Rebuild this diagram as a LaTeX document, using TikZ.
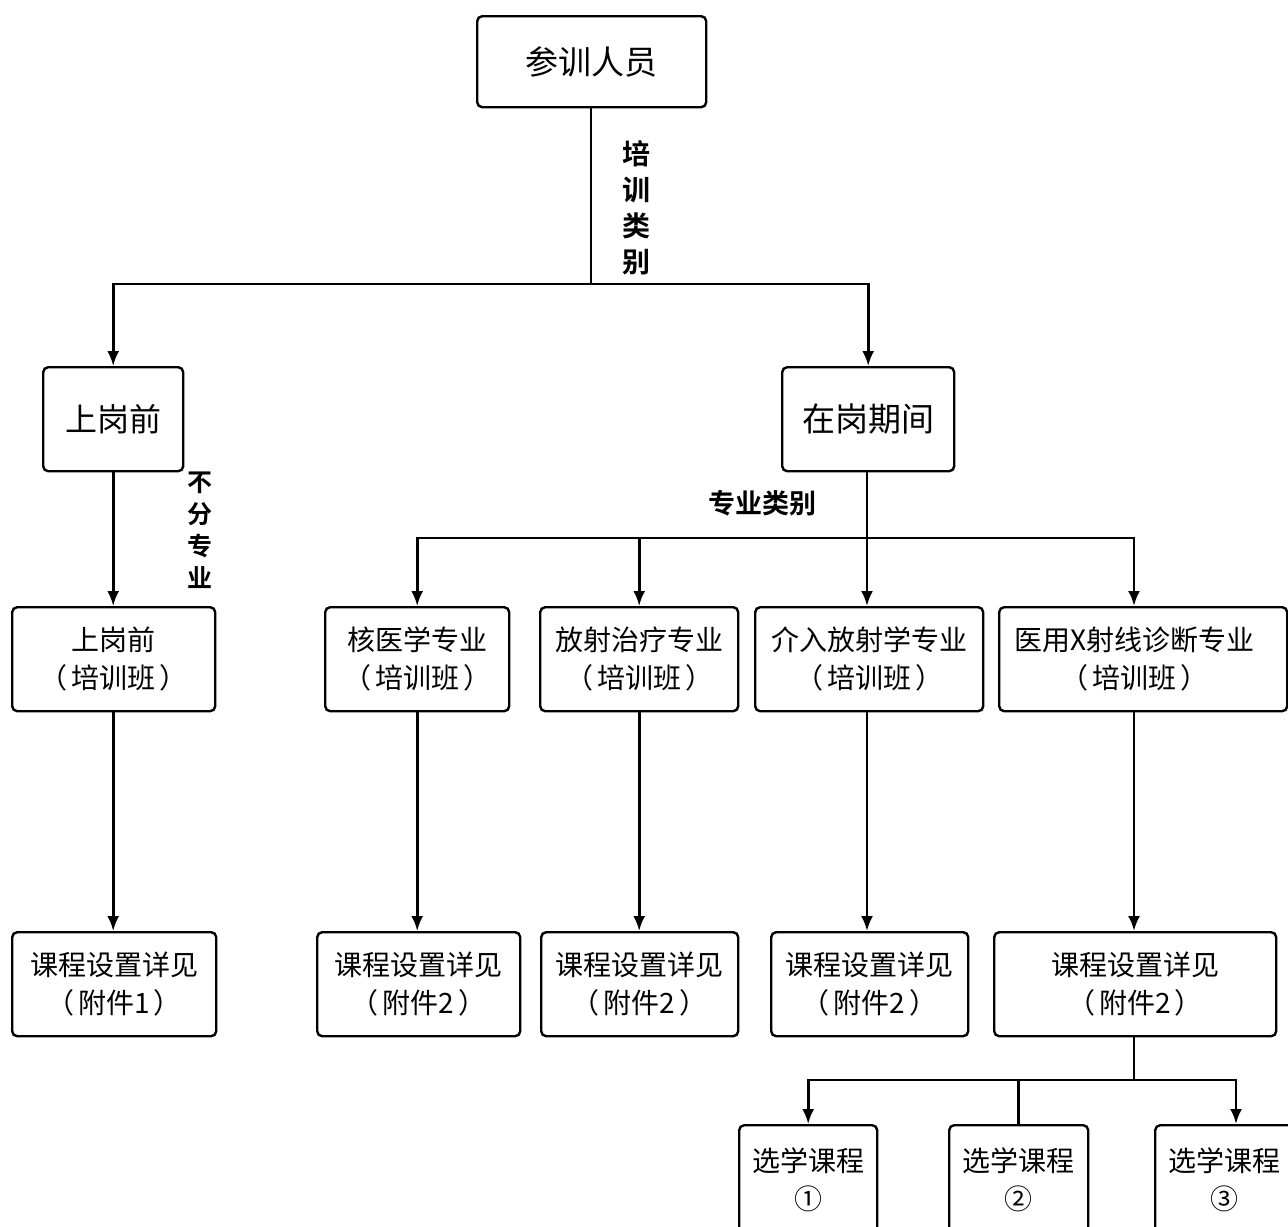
\documentclass[tikz,border=0pt]{standalone}
\usepackage{fontspec}
\setmainfont{Noto Sans CJK SC}
\newfontfamily\cjkb{Noto Sans CJK SC Bold}
\usetikzlibrary{arrows.meta}
\tikzset{
  box/.style={draw, line width=1.2pt, rounded corners=2.5pt, fill=white, anchor=north west, inner sep=0pt, align=center},
  conn/.style={line width=1.3pt},
  arr/.style={conn, -{Latex[length=7.5pt,width=6pt]}},
  lab/.style={font=\cjkb, align=center, inner sep=0pt},
}
\newcommand{\bx}[6]{\node[box, minimum width=#4*0.5pt, minimum height=#5*0.5pt, font=\fontsize{#6}{19}\selectfont] (#1) at #2 {#3};}
\newcommand{\pp}[1]{（\hspace{2pt}#1\hspace{2pt}）}
\begin{document}
\begin{tikzpicture}[x=0.5pt,y=-0.5pt]
\path[use as bounding box, clip] (0,0) rectangle (1288,1226);
\fill[white] (0,0) rectangle (1288,1226);
% top
\bx{top}{(476,15)}{参训人员}{229}{91}{16.5}
\bx{pre}{(42,366)}{上岗前}{140}{104}{16}
\bx{on}{(781,366)}{在岗期间}{172}{104}{16.5}
% row 2
\bx{c0}{(11,606)}{上岗前\\\pp{培训班}}{203}{104}{14}
\bx{c1}{(324,606)}{核医学专业\\\pp{培训班}}{184}{104}{14}
\bx{c2}{(539,606)}{放射治疗专业\\\pp{培训班}}{198}{104}{14}
\bx{c3}{(754,606)}{介入放射学专业\\\pp{培训班}}{228}{104}{14}
\node[box, minimum width=144pt, minimum height=52pt, font=\fontsize{14}{19}\selectfont, text width=144pt] (c4) at (998,606) {\hspace*{-9pt}医用X射线诊断专业\\\hspace*{-9pt}\pp{培训班}};
% row 3
\bx{d0}{(11,931)}{课程设置详见\\\pp{附件1}}{204}{104}{14}
\bx{d1}{(316,931)}{课程设置详见\\\pp{附件2}}{203}{104}{14}
\bx{d2}{(540,931)}{课程设置详见\\\pp{附件2}}{197}{104}{14}
\bx{d3}{(770,931)}{课程设置详见\\\pp{附件2}}{197}{104}{14}
\bx{d4}{(993,931)}{课程设置详见\\\pp{附件2}}{282}{104}{14}
% row 4
\bx{e1}{(738,1124)}{选学课程\\①}{138}{110}{14}
\bx{e2}{(948,1124)}{选学课程\\②}{139}{110}{14}
\bx{e3}{(1154,1124)}{选学课程\\③}{138}{110}{14}
% junctions
\coordinate (j1) at (591,284);
\coordinate (j2) at (867,538);
\coordinate (j3) at (1134,1080);
\coordinate (k3) at (1236,1080);
% connectors
\draw[conn] (top.south -| j1) -- (j1);
\draw[arr] (j1) -| (pre.north);
\draw[arr] (j1) -| (on.north);
\draw[arr] (pre.south) -- (c0.north -| pre.south);
\draw[conn] (on.south -| j2) -- (j2);
\draw[arr] (j2) -| (c1.north);
\draw[arr] (j2) -| (c2.north);
\draw[arr] (j2) -- (c3.north -| j2);
\draw[arr] (j2) -| (c4.north -| j3);
\draw[arr] (c0.south -| pre.south) -- (d0.north -| pre.south);
\draw[arr] (c1.south) -- (d1.north -| c1.south);
\draw[arr] (c2.south) -- (d2.north -| c2.south);
\draw[arr] (c3.south -| j2) -- (d3.north -| j2);
\draw[arr] (c4.south -| j3) -- (d4.north -| j3);
\draw[conn] (d4.south -| j3) -- (j3);
\draw[arr] (j3) -| (e1.north);
\draw[conn] (j3) -| (e2.north);
\draw[arr] (j3) -- (k3) -- (e3.north -| k3);
% labels
\node[lab, font=\cjkb\fontsize{14}{18}\selectfont] (l1) at (636,208) {培\\训\\类\\别};
\node[lab, font=\cjkb\fontsize{12.5}{16}\selectfont] (l2) at (200,530) {不\\分\\专\\业};
\node[lab, font=\cjkb\fontsize{13.5}{16}\selectfont] (l3) at (762,503) {专业类别};
\end{tikzpicture}
\end{document}
